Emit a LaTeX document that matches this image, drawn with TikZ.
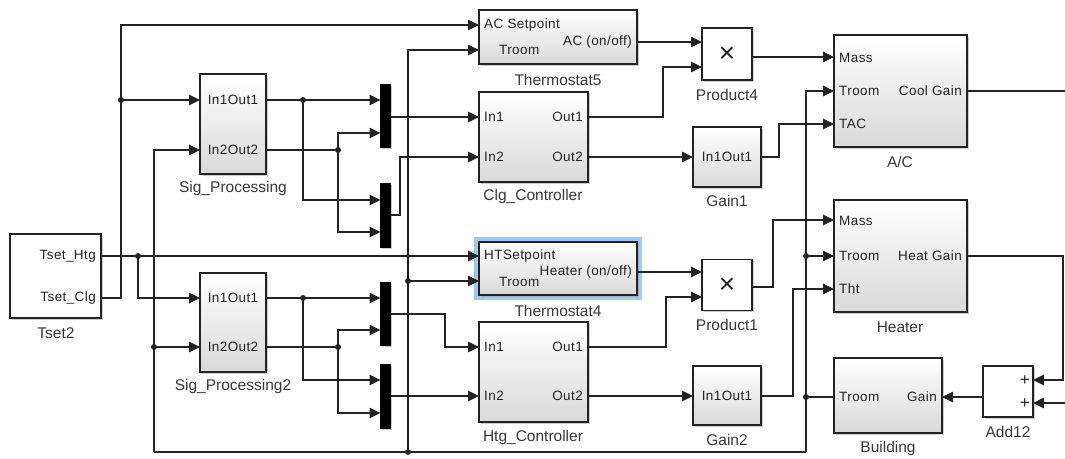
\documentclass[tikz,border=0pt]{standalone}
\usepackage{fontspec}
\setmainfont{Liberation Sans}
\usetikzlibrary{arrows.meta,shadows}
\definecolor{glow}{RGB}{160,200,240}
\definecolor{ink}{RGB}{35,35,35}
\tikzset{
  wire/.style={line width=1.2pt, draw=ink},
  arr/.style={wire, -{Triangle[length=11pt,width=10.5pt]}},
  shad/.style={drop shadow={shadow xshift=1.8pt, shadow yshift=-1.8pt, fill=black!40}},
  sub/.style={draw=ink, line width=1.2pt, top color=white, bottom color=black!15, shad, inner sep=0pt, outer sep=0pt},
  plainblk/.style={draw=ink, line width=1.2pt, fill=white, shad, inner sep=0pt, outer sep=0pt},
  muxbar/.style={draw=black, fill=black, shad, inner sep=0pt, outer sep=0pt, minimum width=10pt},
  port/.style={font=\fontsize{13.5}{14}\selectfont\addfontfeatures{LetterSpace=3}, text=ink, inner sep=0pt},
  plus/.style={font=\fontsize{17}{17}\selectfont, text=ink, inner sep=0pt},
  lbl/.style={font=\fontsize{15.5}{16}\selectfont, text=black!78, inner sep=0pt},
  prodsym/.style={font=\fontsize{28}{28}\selectfont, text=ink, inner sep=0pt},
  jdot/.style={circle, fill=ink, inner sep=0pt, minimum size=6pt},
}
\begin{document}
\begin{tikzpicture}[x=1pt,y=-1pt]
\useasboundingbox (0,0) rectangle (1065,458);

% ---------- blocks ----------
\node[plainblk, minimum width=91pt, minimum height=84pt] (tset) at (55.5,276) {};
\node[sub, minimum width=66pt, minimum height=100pt] (sp1) at (233,124) {};
\node[sub, minimum width=66pt, minimum height=99pt] (sp2) at (233,322.5) {};
\node[muxbar, minimum height=63pt] (mux1) at (385.5,115.5) {};
\node[muxbar, minimum height=64pt] (mux2) at (385.5,215) {};
\node[muxbar, minimum height=63pt] (mux3) at (385.5,313.5) {};
\node[muxbar, minimum height=64pt] (mux4) at (385.5,396) {};
\node[sub, minimum width=158pt, minimum height=54pt] (th5) at (558,37) {};
\node[sub, minimum width=109pt, minimum height=90pt] (clg) at (533.5,137) {};
\node[draw=glow, line width=4pt, minimum width=164pt, minimum height=59pt, inner sep=0pt] (th4glow) at (558,268.5) {};
\node[sub, minimum width=158pt, minimum height=53pt] (th4) at (558,268.5) {};
\node[sub, minimum width=109pt, minimum height=100pt] (htg) at (533.5,372) {};
\node[plainblk, minimum width=50pt, minimum height=52pt] (p4) at (727,54) {};
\node[sub, minimum width=68pt, minimum height=60pt] (g1) at (727,157) {};
\node[plainblk, minimum width=50pt, minimum height=51pt] (p1) at (727,285) {};
\node[sub, minimum width=68pt, minimum height=59pt] (g2) at (727,395.5) {};
\node[sub, minimum width=133pt, minimum height=112pt] (ac) at (900.5,91) {};
\node[sub, minimum width=133pt, minimum height=112pt] (ht) at (900.5,256) {};
\node[sub, minimum width=108pt, minimum height=75pt] (bld) at (888,395.5) {};
\node[plainblk, minimum width=50pt, minimum height=51pt] (add) at (1008,391.5) {};

% ---------- block texts ----------
\node[port, anchor=east] (t-htg) at (96,256) {Tset\_Htg};
\node[port, anchor=east] (t-clg) at (96,298) {Tset\_Clg};
\node[port] (t-sp1a) at (233,100) {In1Out1};
\node[port] (t-sp1b) at (233,150) {In2Out2};
\node[port] (t-sp2a) at (233,298) {In1Out1};
\node[port] (t-sp2b) at (233,347) {In2Out2};
\node[port, anchor=west] (t-th5a) at (484,25) {AC Setpoint};
\node[port, anchor=west] (t-th5b) at (499,50) {Troom};
\node[port, anchor=east] (t-th5c) at (632,42) {AC (on/off)};
\node[port, anchor=west] (t-clga) at (484,117) {In1};
\node[port, anchor=west] (t-clgb) at (484,157) {In2};
\node[port, anchor=east] (t-clgc) at (583,117) {Out1};
\node[port, anchor=east] (t-clgd) at (583,157) {Out2};
\node[port, anchor=west] (t-th4a) at (484,256) {HTSetpoint};
\node[port, anchor=west] (t-th4b) at (499,282) {Troom};
\node[port, anchor=east] (t-th4c) at (632,272) {Heater (on/off)};
\node[port, anchor=west] (t-htga) at (484,347) {In1};
\node[port, anchor=west] (t-htgb) at (484,396) {In2};
\node[port, anchor=east] (t-htgc) at (583,347) {Out1};
\node[port, anchor=east] (t-htgd) at (583,396) {Out2};
\node[prodsym] (t-p4) at (727,55) {×};
\node[prodsym] (t-p1) at (727,286) {×};
\node[port] (t-g1) at (727,157) {In1Out1};
\node[port] (t-g2) at (727,396) {In1Out1};
\node[port, anchor=west] (t-aca) at (839,58) {Mass};
\node[port, anchor=west] (t-acb) at (839,91) {Troom};
\node[port, anchor=west] (t-acc) at (839,124) {TAC};
\node[port, anchor=east] (t-acd) at (962,91) {Cool Gain};
\node[port, anchor=west] (t-hta) at (839,221) {Mass};
\node[port, anchor=west] (t-htb) at (839,256) {Troom};
\node[port, anchor=west] (t-htc) at (839,289) {Tht};
\node[port, anchor=east] (t-htd) at (962,256) {Heat Gain};
\node[port, anchor=west] (t-blda) at (839,397) {Troom};
\node[port, anchor=east] (t-bldb) at (937,397) {Gain};
\node[plus, anchor=east] (t-adda) at (1030,381) {+};
\node[plus, anchor=east] (t-addb) at (1030,404) {+};

% ---------- block labels ----------
\node[lbl] (l-tset) at (56,333) {Tset2};
\node[lbl] (l-sp1) at (233,188) {Sig\_Processing};
\node[lbl] (l-sp2) at (233,386) {Sig\_Processing2};
\node[lbl] (l-th5) at (558,80) {Thermostat5};
\node[lbl] (l-clg) at (533,196) {Clg\_Controller};
\node[lbl] (l-p4) at (727,95) {Product4};
\node[lbl] (l-g1) at (727,201) {Gain1};
\node[lbl] (l-th4) at (558,311) {Thermostat4};
\node[lbl] (l-p1) at (727,325) {Product1};
\node[lbl] (l-htg) at (533,437) {Htg\_Controller};
\node[lbl] (l-g2) at (727,440) {Gain2};
\node[lbl] (l-ac) at (900,162) {A/C};
\node[lbl] (l-ht) at (900,327) {Heater};
\node[lbl] (l-bld) at (888,448) {Building};
\node[lbl] (l-add) at (1008,432) {Add12};

% ---------- port coordinates ----------
\coordinate (tset-o1) at (101,256);
\coordinate (tset-o2) at (101,298);
\coordinate (sp1-i1) at (200,100); \coordinate (sp1-i2) at (200,150);
\coordinate (sp1-o1) at (266,100); \coordinate (sp1-o2) at (266,150);
\coordinate (sp2-i1) at (200,298); \coordinate (sp2-i2) at (200,347);
\coordinate (sp2-o1) at (266,298); \coordinate (sp2-o2) at (266,347);
\coordinate (mux1-i1) at (380.5,100); \coordinate (mux1-i2) at (380.5,133); \coordinate (mux1-o) at (390.5,117);
\coordinate (mux2-i1) at (380.5,200); \coordinate (mux2-i2) at (380.5,232); \coordinate (mux2-o) at (390.5,215);
\coordinate (mux3-i1) at (380.5,298); \coordinate (mux3-i2) at (380.5,330); \coordinate (mux3-o) at (390.5,314);
\coordinate (mux4-i1) at (380.5,380); \coordinate (mux4-i2) at (380.5,413); \coordinate (mux4-o) at (390.5,396);
\coordinate (th5-i1) at (479,25); \coordinate (th5-i2) at (479,50); \coordinate (th5-o) at (637,42);
\coordinate (clg-i1) at (479,117); \coordinate (clg-i2) at (479,157);
\coordinate (clg-o1) at (588,117); \coordinate (clg-o2) at (588,157);
\coordinate (th4-i1) at (479,256); \coordinate (th4-i2) at (479,281); \coordinate (th4-o) at (637,272);
\coordinate (htg-i1) at (479,347); \coordinate (htg-i2) at (479,396);
\coordinate (htg-o1) at (588,347); \coordinate (htg-o2) at (588,396);
\coordinate (p4-i1) at (702,42); \coordinate (p4-i2) at (702,67); \coordinate (p4-o) at (752,57);
\coordinate (g1-i) at (693,157); \coordinate (g1-o) at (761,157);
\coordinate (p1-i1) at (702,272); \coordinate (p1-i2) at (702,297); \coordinate (p1-o) at (752,287);
\coordinate (g2-i) at (693,396); \coordinate (g2-o) at (761,396);
\coordinate (ac-i1) at (834,57); \coordinate (ac-i2) at (834,91); \coordinate (ac-i3) at (834,124); \coordinate (ac-o) at (967,91);
\coordinate (ht-i1) at (834,220); \coordinate (ht-i2) at (834,256); \coordinate (ht-i3) at (834,289); \coordinate (ht-o) at (967,256);
\coordinate (bld-o) at (834,397); \coordinate (bld-i) at (942,397);
\coordinate (add-i1) at (1033,380); \coordinate (add-i2) at (1033,403); \coordinate (add-o) at (983,397);
% free ends and corners
\coordinate (acfar) at (1065,91);
\coordinate (htturn) at (1063,256);
\coordinate (addfar) at (1065,403);
\coordinate (fbr) at (806,452);
\coordinate (fbl) at (154,452);
\coordinate (fbt) at (408,452);

% ---------- junction dots ----------
\node[jdot] (j1) at (121,100) {};
\node[jdot] (j2) at (138,256) {};
\node[jdot] (j3) at (303,100) {};
\node[jdot] (j4) at (338,150) {};
\node[jdot] (j5) at (303,298) {};
\node[jdot] (j6) at (338,347) {};
\node[jdot] (j7) at (408,281) {};
\node[jdot] (j8) at (408,452) {};
\node[jdot] (j9) at (806,256) {};
\node[jdot] (j10) at (806,397) {};
\node[jdot] (j11) at (154,347) {};

% ---------- connectors ----------
\draw[arr] (tset-o2) -- ++(20,0) |- (th5-i1);
\draw[arr] (j1.center) -- (sp1-i1);
\draw[arr] (tset-o1) -- (th4-i1);
\draw[arr] (j2.center) |- (sp2-i1);

\draw[arr] (sp1-o1) -- (mux1-i1);
\draw[arr] (j3.center) |- (mux2-i1);
\draw[wire] (sp1-o2) -- (j4.center);
\draw[arr] (j4.center) |- (mux1-i2);
\draw[arr] (j4.center) |- (mux2-i2);

\draw[arr] (sp2-o1) -- (mux3-i1);
\draw[arr] (j5.center) |- (mux4-i1);
\draw[wire] (sp2-o2) -- (j6.center);
\draw[arr] (j6.center) |- (mux3-i2);
\draw[arr] (j6.center) |- (mux4-i2);

\draw[arr] (mux1-o) -- (clg-i1);
\draw[arr] (mux2-o) -- ++(9.5,0) |- (clg-i2);
\draw[arr] (mux3-o) -- ++(54.5,0) |- (htg-i1);
\draw[arr] (mux4-o) -- (htg-i2);

\draw[arr] (th5-o) -- (p4-i1);
\draw[arr] (clg-o1) -- ++(75,0) |- (p4-i2);
\draw[arr] (clg-o2) -- (g1-i);
\draw[arr] (th4-o) -- (p1-i1);
\draw[arr] (htg-o1) -- ++(78,0) |- (p1-i2);
\draw[arr] (htg-o2) -- (g2-i);

\draw[arr] (p4-o) -- (ac-i1);
\draw[arr] (g1-o) -- ++(18,0) |- (ac-i3);
\draw[arr] (p1-o) -- ++(21,0) |- (ht-i1);
\draw[arr] (g2-o) -- ++(32,0) |- (ht-i3);

\draw[wire] (ac-o) -- (acfar);
\draw[arr] (ht-o) -- (htturn) |- (add-i1);
\draw[arr] (addfar) -- (add-i2);
\draw[arr] (add-o) -- (bld-i);

% room temperature feedback
\draw[wire] (bld-o) -- (j10.center);
\draw[arr] (fbr) |- (ac-i2);
\draw[arr] (j9.center) -- (ht-i2);
\draw[wire] (fbr) -- (fbl);
\draw[arr] (fbl) |- (sp1-i2);
\draw[arr] (j11.center) -- (sp2-i2);
\draw[arr] (fbt) |- (th5-i2);
\draw[arr] (j7.center) -- (th4-i2);
\end{tikzpicture}
\end{document}
